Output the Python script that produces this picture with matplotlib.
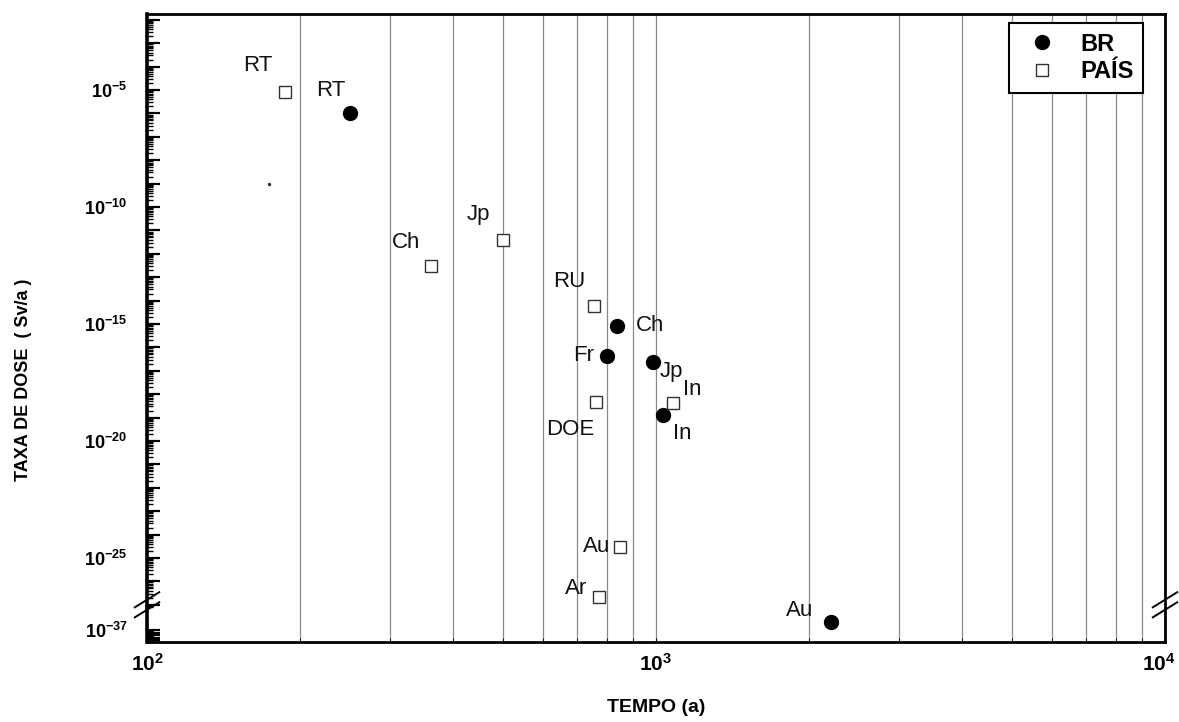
import numpy as np
import matplotlib
matplotlib.use("Agg")
import matplotlib.pyplot as plt
from matplotlib import ticker
from matplotlib import transforms

plt.rcParams['font.family'] = ['Liberation Sans', 'DejaVu Sans']
plt.rcParams['mathtext.fontset'] = 'custom'
plt.rcParams['mathtext.rm'] = 'Liberation Sans'
plt.rcParams['mathtext.bf'] = 'Liberation Sans:bold'

# tempo (anos) e log10 da taxa de dose (Sv/a)
br_labels = ['RT', 'Ch', 'Fr', 'Jp', 'In', 'Au']
br_tempo = [250, 837, 800, 985, 1031, 2204]
br_logdose = [-6.0, -15.07, -16.35, -16.64, -18.89, -34.0]

pais_labels = ['RT', 'Jp', 'Ch', 'RU', 'DOE', 'In', 'Au', 'Ar']
pais_tempo = [187, 501, 362, 755, 762, 1081, 850, 774]
pais_logdose = [-5.1, -11.41, -12.52, -14.23, -18.32, -18.36, -24.52, -26.68]

# posicao dos rotulos em pixels, relativa ao ponto
br_offsets = [(-19, 23), (33, 0), (-23, 0), (19, -9), (20, -18), (-31, 12)]
pais_offsets = [(-28, 27), (-25, 26), (-25, 23), (-25, 25), (-26, -28),
                (19, 13), (-23, 0), (-23, 9)]

stray_tempo = [174]
stray_logdose = [-9.03]

y_ticks_labelled = [-5, -10, -15, -20, -25, -37]

# eixo y quebrado entre 1e-27 e 1e-37
BRK = -27.0
K = 0.108


def fwd(v):
    e = np.log10(np.clip(v, 1e-300, None))
    return np.where(e >= BRK, e, BRK + (e - BRK) * K)


def inv(p):
    p = np.asarray(p, dtype=float)
    e = np.where(p >= BRK, p, BRK + (p - BRK) / K)
    return 10.0 ** e


fig = plt.figure(figsize=(11.79, 7.22), dpi=100)
ax = fig.add_axes([147 / 1179, 1 - 642 / 722, 1018 / 1179, 628 / 722])
ax.set_xscale('log')
ax.set_yscale('function', functions=(fwd, inv))

br_dose = 10.0 ** np.array(br_logdose)
pais_dose = 10.0 ** np.array(pais_logdose)

ax.plot(br_tempo, br_dose, 'o', color='black', ms=10, label='BR', zorder=4)
ax.plot(pais_tempo, pais_dose, 's', mfc='white', mec='#333333', mew=1.0,
        ms=8, label='PAÍS', zorder=4)
ax.plot(stray_tempo, 10.0 ** np.array(stray_logdose), '.', color='#333333', ms=3)

for lab, t, d, off in zip(br_labels, br_tempo, br_dose, br_offsets):
    ax.annotate(lab, (t, d), xytext=off, textcoords='offset pixels',
                ha='center', va='center', fontsize=16, color='#111111')
for lab, t, d, off in zip(pais_labels, pais_tempo, pais_dose, pais_offsets):
    ax.annotate(lab, (t, d), xytext=off, textcoords='offset pixels',
                ha='center', va='center', fontsize=16, color='#111111')

ax.set_xlim(100, 1e4)
ax.set_ylim(inv(-28.59), 10 ** -1.75)

# grade vertical
ax.xaxis.set_minor_locator(ticker.LogLocator(base=10, subs=np.arange(2, 10)))
ax.xaxis.set_minor_formatter(ticker.NullFormatter())
ax.grid(True, which='both', axis='x', color='#8a8a8a', lw=0.9)
ax.set_xticks([100, 1000, 10000])
ax.set_xticklabels([r'$\mathbf{10^{2}}$', r'$\mathbf{10^{3}}$', r'$\mathbf{10^{4}}$'],
                   fontsize=15)
ax.tick_params(axis='x', which='both', direction='in', length=3, pad=8)
last = ax.get_xticklabels()[-1]
last.set_transform(last.get_transform() +
                   transforms.ScaledTranslation(-6 / 100, 0, fig.dpi_scale_trans))

# ticks do eixo y
decades = list(range(-2, -28, -1)) + list(range(-37, -42, -1))
ax.yaxis.set_major_locator(ticker.FixedLocator([10.0 ** e for e in decades]))


def ylab(v, pos):
    e = int(round(np.log10(v)))
    if e in y_ticks_labelled:
        return r'$\mathbf{10^{%d}}$' % e
    return ''


ax.yaxis.set_major_formatter(ticker.FuncFormatter(ylab))
minor = []
for e in decades:
    for s in range(2, 10):
        minor.append(s * 10.0 ** (e - 1))
ax.yaxis.set_minor_locator(ticker.FixedLocator(minor))
ax.yaxis.set_minor_formatter(ticker.NullFormatter())
ax.tick_params(axis='y', which='major', direction='in', length=9, width=1.6,
               labelsize=13, pad=14)
ax.tick_params(axis='y', which='minor', direction='in', length=4, width=1.0)

for side in ['left', 'bottom', 'top', 'right']:
    ax.spines[side].set_linewidth(2.0)
ax.spines['left'].set_linewidth(2.6)

# marcas de quebra
fb = (BRK - (-28.59)) / (-1.75 - (-28.59))
for x0 in (0.0, 1.0):
    for dy in (-0.008, 0.008):
        ax.plot([x0 - 0.012, x0 + 0.012], [fb + dy - 0.012, fb + dy + 0.012],
                transform=ax.transAxes, color='black', lw=1.4, clip_on=False,
                zorder=5)

leg = ax.legend(loc='upper right', bbox_to_anchor=(0.99, 1.004), fancybox=False,
                framealpha=1, edgecolor='black', prop={'weight': 'bold', 'size': 17},
                handletextpad=0.6, borderpad=0.4, labelspacing=0.2)
leg.get_frame().set_linewidth(1.5)

fig.text(656 / 1179, 1 - 708 / 722, 'TEMPO (a)', ha='center', va='center',
         fontsize=14, fontweight='bold')
fig.text(24 / 1179, 1 - 380 / 722, 'TAXA DE DOSE  ( Sv/a )', ha='center',
         va='center', rotation=90, fontsize=13, fontweight='bold')

fig.savefig('out.png', dpi=100)
